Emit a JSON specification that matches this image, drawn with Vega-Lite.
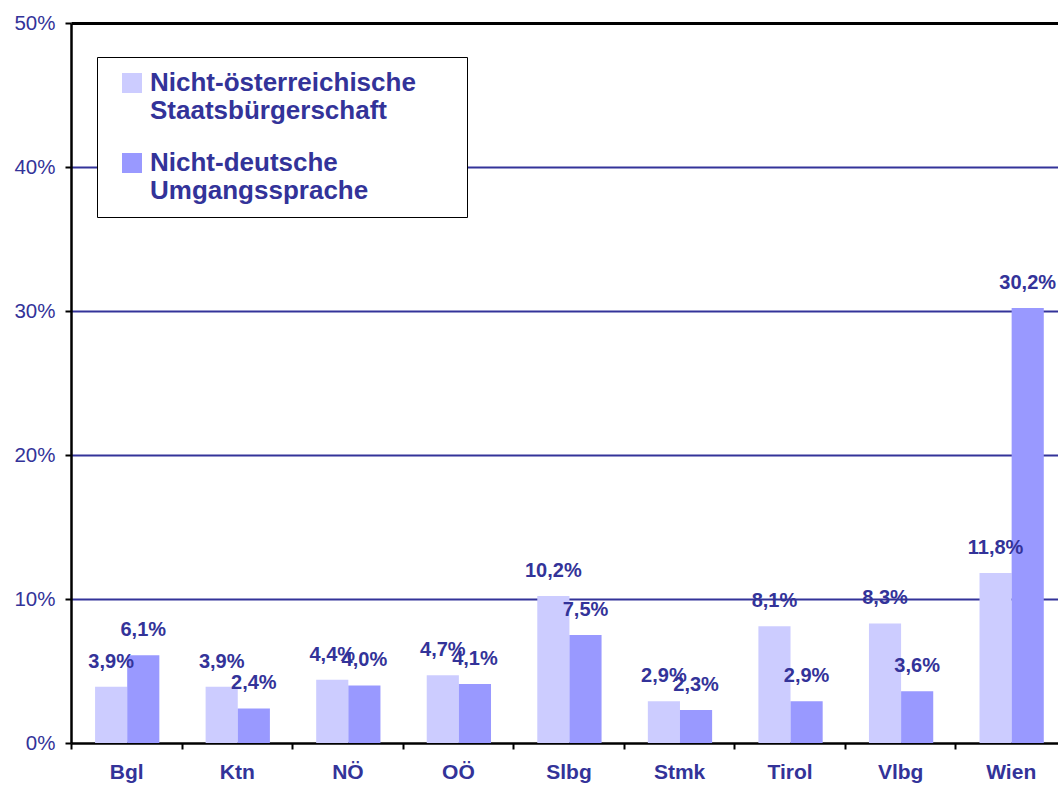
{
  "$schema": "https://vega.github.io/schema/vega-lite/v6.json",
  "width": 987,
  "height": 720,
  "autosize": {"type": "none"},
  "padding": {"left": 71, "top": 23, "right": 0, "bottom": 42},
  "background": "white",
  "config": {
    "locale": {"number": {"decimal": ",", "thousands": ".", "grouping": [3], "currency": ["", " €"]}},
    "view": {"stroke": null},
    "font": "Liberation Sans"
  },
  "data": {
    "values": [
      {"Region": "Bgl", "Serie": "Nicht-österreichische Staatsbürgerschaft", "Anteil": 0.039},
      {"Region": "Bgl", "Serie": "Nicht-deutsche Umgangssprache", "Anteil": 0.061},
      {"Region": "Ktn", "Serie": "Nicht-österreichische Staatsbürgerschaft", "Anteil": 0.039},
      {"Region": "Ktn", "Serie": "Nicht-deutsche Umgangssprache", "Anteil": 0.024},
      {"Region": "NÖ", "Serie": "Nicht-österreichische Staatsbürgerschaft", "Anteil": 0.044},
      {"Region": "NÖ", "Serie": "Nicht-deutsche Umgangssprache", "Anteil": 0.040},
      {"Region": "OÖ", "Serie": "Nicht-österreichische Staatsbürgerschaft", "Anteil": 0.047},
      {"Region": "OÖ", "Serie": "Nicht-deutsche Umgangssprache", "Anteil": 0.041},
      {"Region": "Slbg", "Serie": "Nicht-österreichische Staatsbürgerschaft", "Anteil": 0.102},
      {"Region": "Slbg", "Serie": "Nicht-deutsche Umgangssprache", "Anteil": 0.075},
      {"Region": "Stmk", "Serie": "Nicht-österreichische Staatsbürgerschaft", "Anteil": 0.029},
      {"Region": "Stmk", "Serie": "Nicht-deutsche Umgangssprache", "Anteil": 0.023},
      {"Region": "Tirol", "Serie": "Nicht-österreichische Staatsbürgerschaft", "Anteil": 0.081},
      {"Region": "Tirol", "Serie": "Nicht-deutsche Umgangssprache", "Anteil": 0.029},
      {"Region": "Vlbg", "Serie": "Nicht-österreichische Staatsbürgerschaft", "Anteil": 0.083},
      {"Region": "Vlbg", "Serie": "Nicht-deutsche Umgangssprache", "Anteil": 0.036},
      {"Region": "Wien", "Serie": "Nicht-österreichische Staatsbürgerschaft", "Anteil": 0.118},
      {"Region": "Wien", "Serie": "Nicht-deutsche Umgangssprache", "Anteil": 0.302}
    ]
  },
  "encoding": {
    "x": {
      "field": "Region",
      "type": "nominal",
      "sort": null,
      "scale": {"paddingInner": 0, "paddingOuter": 0, "range": [0, 995]},
      "axis": {
        "title": null,
        "labelAngle": 0,
        "labelFont": "Liberation Sans",
        "labelFontSize": 21,
        "labelFontWeight": "bold",
        "labelColor": "#333399",
        "labelPadding": 12,
        "tickBand": "extent",
        "tickColor": "black",
        "tickWidth": 2,
        "tickSize": 6,
        "domainColor": "black",
        "domainWidth": 2.5
      }
    },
    "xOffset": {
      "field": "Serie",
      "type": "nominal",
      "sort": ["Nicht-österreichische Staatsbürgerschaft", "Nicht-deutsche Umgangssprache"],
      "scale": {"paddingInner": 0, "paddingOuter": 0.72, "align": 0.52}
    },
    "y": {
      "field": "Anteil",
      "type": "quantitative",
      "scale": {"domain": [0, 0.5], "nice": false},
      "axis": {
        "title": null,
        "values": [0, 0.1, 0.2, 0.3, 0.4, 0.5],
        "format": ".0%",
        "labelFont": "Liberation Sans",
        "labelFontSize": 20.5,
        "labelColor": "#333399",
        "labelPadding": 10,
        "tickColor": "black",
        "tickWidth": 2,
        "tickSize": 6,
        "domainColor": "black",
        "domainWidth": 2.5,
        "grid": true,
        "gridColor": {"condition": {"test": "datum.value === 0.5", "value": "black"}, "value": "#333399"},
        "gridWidth": {"condition": {"test": "datum.value === 0.5", "value": 3}, "value": 2},
        "gridOpacity": {"condition": {"test": "datum.value === 0", "value": 0}, "value": 1}
      }
    }
  },
  "layer": [
    {
      "mark": {"type": "bar"},
      "encoding": {
        "color": {
          "field": "Serie",
          "type": "nominal",
          "sort": ["Nicht-österreichische Staatsbürgerschaft", "Nicht-deutsche Umgangssprache"],
          "scale": {"domain": ["Nicht-österreichische Staatsbürgerschaft", "Nicht-deutsche Umgangssprache"], "range": ["#CCCCFF", "#9999FF"]},
          "legend": {
            "title": null,
            "orient": "none",
            "legendX": 26,
            "legendY": 34,
            "direction": "vertical",
            "symbolType": "square",
            "symbolSize": 400,
            "symbolStrokeWidth": 0,
            "symbolOpacity": 1,
            "symbolOffset": 9,
            "labelExpr": "[split(datum.label, ' ')[0] + '\u2800\u2800', split(datum.label, ' ')[1]]",
            "labelFont": "Liberation Sans",
            "labelFontSize": 26,
            "labelFontWeight": "bold",
            "labelColor": "#333399",
            "labelLimit": 0,
            "labelBaseline": "middle",
            "labelOffset": 5,
            "rowPadding": 26,
            "padding": 13,
            "strokeColor": "black",
            "fillColor": "white"
          }
        }
      }
    },
    {
      "mark": {"type": "text", "baseline": "alphabetic", "dy": -19, "font": "Liberation Sans", "fontSize": 20, "fontWeight": "bold", "color": "#333399"},
      "encoding": {
        "text": {"field": "Anteil", "type": "quantitative", "format": ".1%"}
      }
    }
  ]
}
